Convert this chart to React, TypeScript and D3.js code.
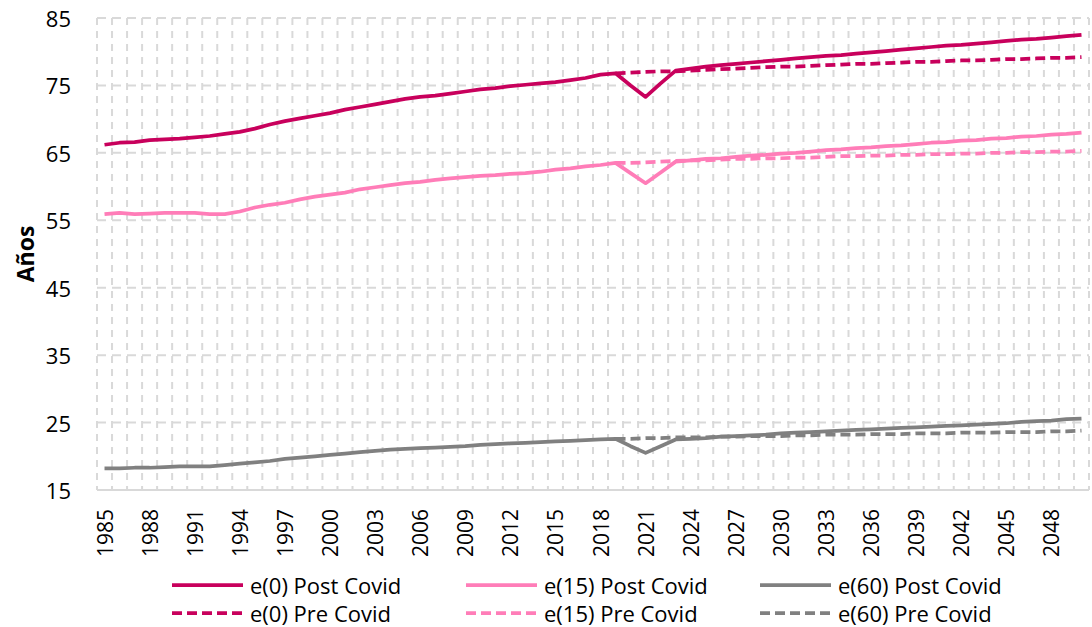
import React from "react";
import * as d3 from "d3";

const years: number[] = d3.range(1985, 2051);
const preYears: number[] = d3.range(2019, 2051);
const tickYears: number[] = d3.range(1985, 2051, 3);
const yTicks: number[] = [15, 25, 35, 45, 55, 65, 75, 85];

const e0Post = [66.2, 66.5, 66.6, 66.9, 67.0, 67.1, 67.3, 67.5, 67.8, 68.1, 68.6, 69.2, 69.7, 70.1, 70.5, 70.9, 71.4, 71.8, 72.2, 72.6, 73.0, 73.3, 73.5, 73.8, 74.1, 74.4, 74.6, 74.9, 75.1, 75.3, 75.5, 75.8, 76.1, 76.6, 76.8, 75.0, 73.3, 75.3, 77.2, 77.5, 77.8, 78.0, 78.2, 78.4, 78.6, 78.8, 79.0, 79.2, 79.4, 79.5, 79.7, 79.9, 80.1, 80.3, 80.5, 80.7, 80.9, 81.0, 81.2, 81.4, 81.6, 81.8, 81.9, 82.1, 82.3, 82.5];
const e0Pre = [76.8, 76.9, 77.0, 77.1, 77.1, 77.2, 77.3, 77.4, 77.5, 77.6, 77.7, 77.8, 77.8, 77.9, 78.0, 78.1, 78.2, 78.2, 78.3, 78.4, 78.5, 78.5, 78.6, 78.7, 78.7, 78.8, 78.9, 78.9, 79.0, 79.1, 79.1, 79.2];
const e15Post = [55.9, 56.1, 55.9, 56.0, 56.1, 56.1, 56.1, 55.9, 55.9, 56.3, 56.9, 57.3, 57.6, 58.1, 58.5, 58.8, 59.1, 59.6, 59.9, 60.2, 60.5, 60.7, 61.0, 61.2, 61.4, 61.6, 61.7, 61.9, 62.0, 62.2, 62.5, 62.7, 63.0, 63.2, 63.5, 62.0, 60.5, 62.1, 63.7, 63.9, 64.1, 64.2, 64.4, 64.6, 64.7, 64.9, 65.0, 65.2, 65.4, 65.5, 65.7, 65.8, 66.0, 66.1, 66.3, 66.5, 66.6, 66.8, 66.9, 67.1, 67.2, 67.4, 67.5, 67.7, 67.8, 68.0];
const e15Pre = [63.5, 63.5, 63.6, 63.7, 63.8, 63.9, 63.9, 64.0, 64.1, 64.1, 64.2, 64.2, 64.3, 64.3, 64.4, 64.5, 64.5, 64.6, 64.6, 64.7, 64.7, 64.8, 64.8, 64.9, 64.9, 65.0, 65.0, 65.1, 65.1, 65.2, 65.2, 65.3];
const e60Post = [18.2, 18.2, 18.3, 18.3, 18.4, 18.5, 18.5, 18.5, 18.7, 18.9, 19.1, 19.3, 19.6, 19.8, 20.0, 20.2, 20.4, 20.6, 20.8, 21.0, 21.1, 21.2, 21.3, 21.4, 21.5, 21.7, 21.8, 21.9, 22.0, 22.1, 22.2, 22.3, 22.4, 22.5, 22.6, 21.5, 20.5, 21.5, 22.5, 22.6, 22.7, 22.9, 23.0, 23.1, 23.2, 23.4, 23.5, 23.6, 23.7, 23.8, 23.9, 24.0, 24.1, 24.2, 24.3, 24.4, 24.5, 24.6, 24.7, 24.8, 24.9, 25.1, 25.2, 25.3, 25.5, 25.6];
const e60Pre = [22.6, 22.6, 22.7, 22.7, 22.8, 22.8, 22.8, 22.9, 22.9, 23.0, 23.0, 23.0, 23.1, 23.1, 23.2, 23.2, 23.2, 23.3, 23.3, 23.3, 23.4, 23.4, 23.4, 23.5, 23.5, 23.5, 23.6, 23.6, 23.6, 23.7, 23.7, 23.8];

const seriesNames = ["e(0) Post Covid", "e(15) Post Covid", "e(60) Post Covid", "e(0) Pre Covid", "e(15) Pre Covid", "e(60) Pre Covid"];

const C0 = "#C8005C";
const C15 = "#FF7DB8";
const C60 = "#808080";

const W = 1092, H = 627;
const L = 97, R = 1089, T = 18, B = 490;
const FONT = "'Open Sans', 'Noto Sans', sans-serif";

export default function App() {
  const x = d3.scaleBand<number>().domain(years).range([L, R]).padding(0);
  const y = d3.scaleLinear().domain([15, 85]).range([B, T]);
  const cx = (yr: number) => (x(yr) as number) + x.bandwidth() / 2;
  const line = d3.line<[number, number]>().x((d) => cx(d[0])).y((d) => y(d[1]));

  const series = [
    { name: seriesNames[0], yrs: years, vals: e0Post, color: C0, dash: null },
    { name: seriesNames[1], yrs: years, vals: e15Post, color: C15, dash: null },
    { name: seriesNames[2], yrs: years, vals: e60Post, color: C60, dash: null },
    { name: seriesNames[3], yrs: preYears, vals: e0Pre, color: C0, dash: "10,5" },
    { name: seriesNames[4], yrs: preYears, vals: e15Pre, color: C15, dash: "10,5" },
    { name: seriesNames[5], yrs: preYears, vals: e60Pre, color: C60, dash: "10,5" },
  ];

  const vLines = [...years.map((yr) => x(yr) as number), R];

  return (
    <svg width={W} height={H} style={{ position: "absolute", left: 0, top: 0, background: "#fff" }} fontFamily={FONT}>
      <rect x={0} y={0} width={W} height={H} fill="#fff" />
      {vLines.map((vx, i) => (
        <line key={"v" + i} x1={vx} x2={vx} y1={T} y2={B} stroke="#D9D9D9" strokeWidth={2} strokeDasharray="7,6" />
      ))}
      {yTicks.filter((t) => t > 15).map((t) => (
        <line key={"h" + t} x1={L} x2={R} y1={y(t)} y2={y(t)} stroke="#D9D9D9" strokeWidth={2} strokeDasharray="9,6" />
      ))}
      <line x1={L} x2={R} y1={B} y2={B} stroke="#D9D9D9" strokeWidth={2} />
      {yTicks.map((t) => (
        <text key={"yt" + t} x={71} y={y(t)} textAnchor="end" dominantBaseline="central" fontSize={22} fill="#000">{t}</text>
      ))}
      <text transform={`translate(25,${254}) rotate(-90)`} textAnchor="middle" dominantBaseline="central" fontSize={23} fontWeight="bold" fill="#000">Años</text>
      {tickYears.map((yr) => (
        <text key={"xt" + yr} transform={`translate(${cx(yr)},${B + 19}) rotate(-90)`} textAnchor="end" dominantBaseline="central" fontSize={21} fill="#000">{yr}</text>
      ))}
      {series.map((s) => (
        <path key={s.name} d={line(s.yrs.map((yr, i) => [yr, s.vals[i]] as [number, number])) || ""} fill="none" stroke={s.color} strokeWidth={3.75} strokeDasharray={s.dash || undefined} strokeLinejoin="round" />
      ))}
      {series.map((s, i) => {
        const col = i % 3;
        const row = Math.floor(i / 3);
        const lx = 172 + col * 294;
        const ly = 585 + row * 28;
        return (
          <g key={"lg" + i}>
            <line x1={lx} x2={lx + 71} y1={ly} y2={ly} stroke={s.color} strokeWidth={3.75} strokeDasharray={s.dash || undefined} />
            <text x={lx + 78} y={ly} dominantBaseline="central" fontSize={22} fill="#000">{s.name}</text>
          </g>
        );
      })}
    </svg>
  );
}
